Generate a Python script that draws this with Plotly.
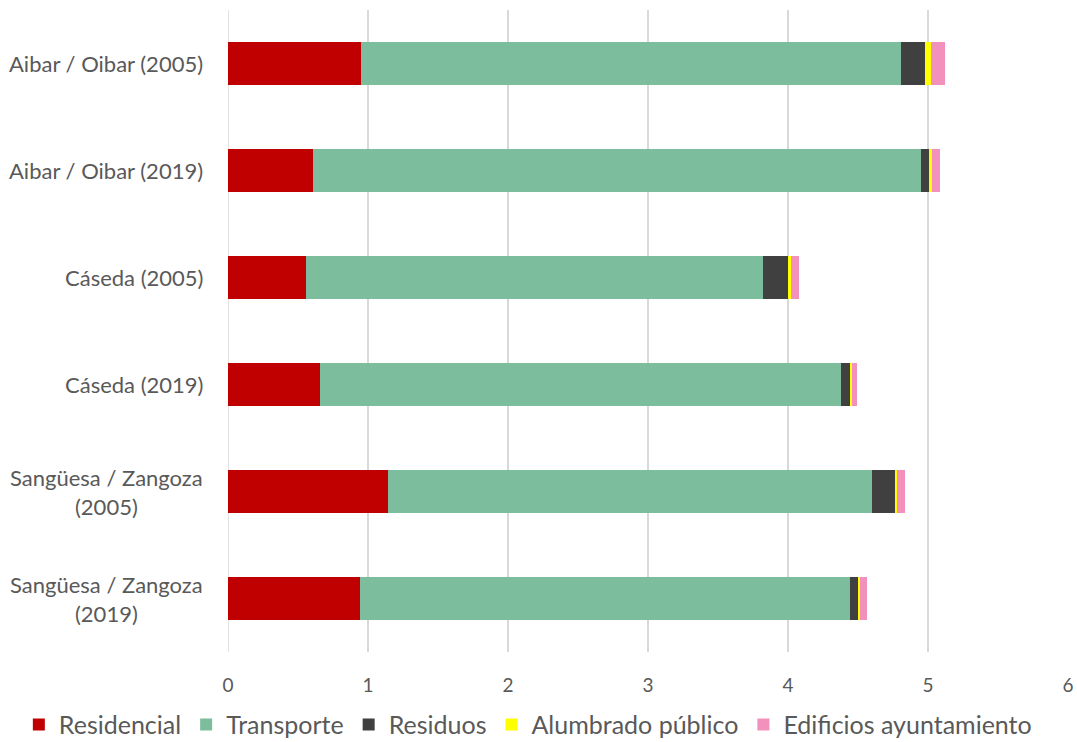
import plotly.graph_objects as go

categories = [
    "Aibar / Oibar (2005)",
    "Aibar / Oibar (2019)",
    "Cáseda (2005)",
    "Cáseda (2019)",
    "Sangüesa / Zangoza<br>(2005)",
    "Sangüesa / Zangoza<br>(2019)",
]
residencial = [0.95, 0.61, 0.56, 0.66, 1.14, 0.94]
transporte = [3.86, 4.34, 3.26, 3.72, 3.46, 3.50]
residuos = [0.17, 0.06, 0.18, 0.06, 0.17, 0.06]
alumbrado = [0.04, 0.02, 0.02, 0.015, 0.012, 0.012]
edificios = [0.10, 0.055, 0.06, 0.035, 0.053, 0.05]

series = [
    ("Residencial", residencial, "#C00000"),
    ("Transporte", transporte, "#7BBD9C"),
    ("Residuos", residuos, "#404040"),
    ("Alumbrado público", alumbrado, "#FFFF00"),
    ("Edificios ayuntamiento", edificios, "#F291BC"),
]

FONT = "Lato, Open Sans, sans-serif"
GREY = "#595959"

fig = go.Figure()
for name, vals, color in series:
    fig.add_trace(go.Bar(
        y=categories, x=vals, name=name, orientation="h",
        marker=dict(color=color, line=dict(width=0)),
    ))

# Category labels (right aligned block, centred lines like the original)
for cat in categories:
    fig.add_annotation(
        x=-0.0274, xref="paper", y=cat, yref="y", text=cat,
        xanchor="right", align="center", showarrow=False,
        font=dict(family=FONT, size=22, color=GREY),
    )

fig.update_layout(
    barmode="stack",
    bargap=0.6,
    width=1077, height=742,
    margin=dict(l=228, r=9, t=10, b=90, autoexpand=False),
    plot_bgcolor="white", paper_bgcolor="white",
    font=dict(family=FONT, color=GREY, size=19),
    xaxis=dict(range=[0, 6], dtick=1, showgrid=True, gridcolor="#D9D9D9",
               gridwidth=1.5, zeroline=False, showline=False,
               tickfont=dict(size=19, color=GREY), ticks="",
               ticklabelstandoff=20),
    yaxis=dict(autorange="reversed", showgrid=False, showline=False,
               showticklabels=False, range=[5.5, -0.5]),
    legend=dict(orientation="h", xref="paper", x=-0.249, xanchor="left",
                yref="paper", y=-0.0775, yanchor="top",
                font=dict(size=25, color=GREY, family=FONT),
                traceorder="normal", itemwidth=30),
)
fig.add_vline(x=0, line=dict(color="#D9D9D9", width=1.5), layer="below")

fig.write_html(
    "out.html",
    config={"displayModeBar": False},
    post_script="document.body.style.margin='0';document.body.style.overflow='hidden';",
)
